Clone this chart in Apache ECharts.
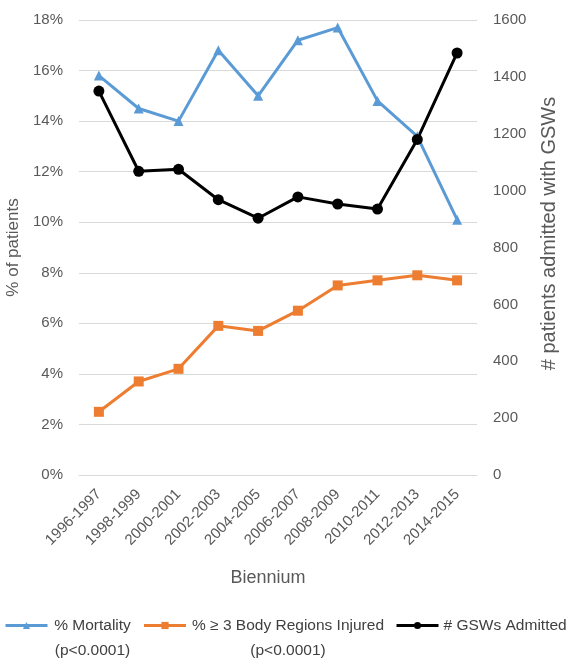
<!DOCTYPE html>
<html><head><meta charset="utf-8">
<script src="https://cdn.jsdelivr.net/npm/echarts@6/dist/echarts.min.js"></script>
<style>html,body{margin:0;padding:0;background:#fff}#c{width:570px;height:662px}</style>
</head><body><div id="c"></div>
<script>
const categories = ['1996-1997','1998-1999','2000-2001','2002-2003','2004-2005','2006-2007','2008-2009','2010-2011','2012-2013','2014-2015'];
const mortality = [15.8, 14.5, 14.0, 16.8, 15.0, 17.2, 17.7, 14.8, 13.4, 10.1];
const bodyRegions = [2.5, 3.7, 4.2, 5.9, 5.7, 6.5, 7.5, 7.7, 7.9, 7.7];
const gswAdmitted = [1350, 1068, 1075, 968, 903, 978, 953, 935, 1180, 1484];
const leftTicks = {min: 0, max: 18, interval: 2};
const rightTicks = {min: 0, max: 1600, interval: 200};

const font = 'Liberation Sans, Arial, sans-serif';
const grey = '#595959';
const chart = echarts.init(document.getElementById('c'));
chart.setOption({
  animation: false,
  textStyle: {fontFamily: font},
  grid: {left: 79, right: 93, top: 20, bottom: 187, outerBoundsMode: 'none', containLabel: false},
  legend: {
    top: 588, left: 4, right: 0, padding: 0, itemGap: 10, itemWidth: 42, itemHeight: 9,
    lineStyle: {width: 3},
    textStyle: {color: '#404040', fontSize: 15.5, fontFamily: font, lineHeight: 25,
      rich: {
        m: {width: 80, align: 'center', fontSize: 15.5, color: '#404040', lineHeight: 25},
        b: {width: 194, align: 'center', fontSize: 15.5, color: '#404040', lineHeight: 25}
      }},
    formatter: function (n) {
      if (n === '% Mortality') return '{m| }\n{m|% Mortality}\n{m|(p<0.0001)}';
      if (n === '% ≥ 3 Body Regions Injured') return '{b| }\n{b|% ≥ 3 Body Regions Injured}\n{b|(p<0.0001)}';
      return ' \n' + n + '\n ';
    },
    data: ['% Mortality', '% ≥ 3 Body Regions Injured', '# GSWs Admitted']
  },
  xAxis: {
    type: 'category', data: categories, boundaryGap: true,
    name: 'Biennium', nameLocation: 'middle', nameGap: 94,
    nameTextStyle: {color: grey, fontSize: 18, padding: [0, 20, 0, 0]},
    axisLine: {lineStyle: {color: '#d9d9d9'}},
    axisTick: {show: false},
    axisLabel: {rotate: 45, color: grey, fontSize: 15, margin: 17}
  },
  yAxis: [
    {type: 'value', min: leftTicks.min, max: leftTicks.max, interval: leftTicks.interval,
     name: '% of patients', nameLocation: 'middle', nameGap: 52, nameRotate: 90,
     nameTextStyle: {color: grey, fontSize: 17},
     axisLabel: {formatter: '{value}%', color: grey, fontSize: 15, margin: 16},
     axisLine: {show: false}, axisTick: {show: false},
     splitLine: {lineStyle: {color: '#d9d9d9'}}},
    {type: 'value', min: rightTicks.min, max: rightTicks.max, interval: rightTicks.interval,
     name: '# patients admitted with GSWs', nameLocation: 'middle', nameGap: 62, nameRotate: 90,
     nameTextStyle: {color: grey, fontSize: 20, padding: [0, 0, 0, 28]},
     axisLabel: {color: grey, fontSize: 15, margin: 16, formatter: function (v) { return String(v); }},
     axisLine: {show: false}, axisTick: {show: false}, splitLine: {show: false}}
  ],
  series: [
    {name: '% Mortality', type: 'line', yAxisIndex: 0, data: mortality,
     symbol: 'triangle', symbolSize: 10,
     lineStyle: {color: '#5B9BD5', width: 3}, itemStyle: {color: '#5B9BD5'}},
    {name: '% ≥ 3 Body Regions Injured', type: 'line', yAxisIndex: 0, data: bodyRegions,
     symbol: 'rect', symbolSize: 10,
     lineStyle: {color: '#ED7D31', width: 3}, itemStyle: {color: '#ED7D31'}},
    {name: '# GSWs Admitted', type: 'line', yAxisIndex: 1, data: gswAdmitted,
     symbol: 'circle', symbolSize: 11,
     lineStyle: {color: '#000', width: 3}, itemStyle: {color: '#000'}}
  ]
});
</script></body></html>
